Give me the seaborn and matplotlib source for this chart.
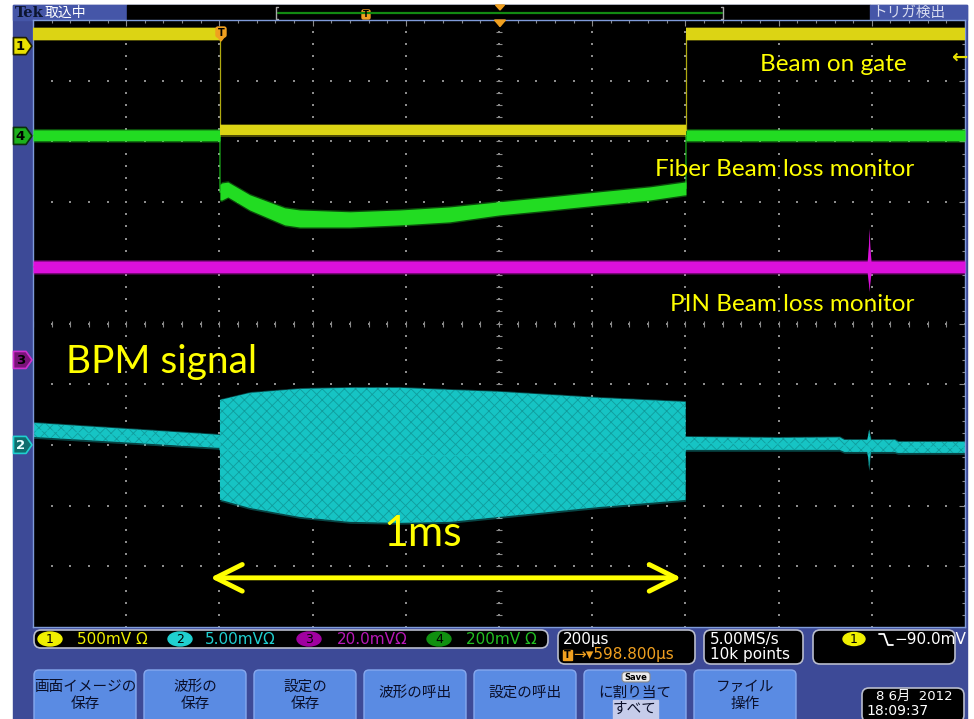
import numpy as np
import matplotlib
matplotlib.use("Agg")
import matplotlib.pyplot as plt
from matplotlib.patches import FancyBboxPatch, Polygon, Rectangle, Ellipse
import seaborn as sns

# ---------------- scope settings (from the readouts) ----------------
MV_PER_DIV = {"1": 500.0, "2": 5.00, "3": 20.0, "4": 200.0}
SCALE_TEXT = {"1": "500mV Ω", "2": "5.00mVΩ", "3": "20.0mVΩ", "4": "200mV Ω"}
GROUND_DIV = {"1": 4.57, "4": 3.09, "3": -0.60, "2": -2.00}   # channel offsets, div from centre
US_PER_DIV = 200.0
DELAY_US = 598.8            # screen centre relative to trigger
SAMPLE_RATE = "5.00MS/s"
RECORD_LEN = "10k points"
TRIG_LEVEL = "−90.0mV"
DATE_TEXT = "8 6月  2012"
TIME_TEXT = "18:09:37"

# ---------------- traces: time (µs), lower / upper edge of trace (mV) ----------------
# Ch1 – beam-on gate
gate_t = [-401.2, 0, 0, 1000, 1000, 1598.8]
gate_lo = [50, 50, -735, -735, 50, 50]
gate_hi = [145, 145, -650, -650, 145, 145]

# Ch4 – fiber beam loss monitor
fiber_t = [-401.2, 0, 0, 4, 17, 64, 139, 171, 279, 386, 493, 600, 707, 815, 922, 997, 1000, 1000, 1598.8]
fiber_lo = [-16, -16, -211, -211, -201, -244, -293, -300, -300, -293, -283, -260, -244, -227, -211, -194, -194, -16, -16]
fiber_hi = [20, 20, -160, -155, -152, -194, -237, -244, -250, -244, -234, -217, -201, -184, -168, -152, -152, 20, 20]

# Ch3 – PIN beam loss monitor
pin_t = [-401.2, 1389, 1391.5, 1393, 1394.5, 1397, 1598.8]
pin_lo = [28.7, 28.7, 25.5, 22.7, 25.5, 28.7, 28.7]
pin_hi = [32.6, 32.6, 37.5, 43.2, 37.5, 32.6, 32.6]

# Ch2 – BPM signal
bpm_t = [-401.2, 0, 0, 2, 64, 171, 279, 386, 493, 600, 707, 815, 999, 999, 1200, 1330, 1340,
         1389, 1391.5, 1393, 1394.5, 1397, 1448, 1455, 1598.8]
bpm_lo = [0.66, -0.25, -4.53, -4.53, -5.19, -5.93, -6.34, -6.42, -6.34, -5.93, -5.52, -5.11, -4.53,
          -0.41, -0.41, -0.41, -0.58, -0.58, -1.20, -2.06, -1.20, -0.58, -0.58, -0.66, -0.66]
bpm_hi = [1.81, 0.82, 3.71, 3.71, 4.28, 4.61, 4.70, 4.70, 4.53, 4.37, 4.12, 3.87, 3.54,
          0.66, 0.58, 0.62, 0.41, 0.41, 0.90, 1.24, 0.90, 0.41, 0.41, 0.25, 0.25]

TRACE_COLORS = {"1": "#DCD414", "2": "#16C4C4", "3": "#DC10DC", "4": "#22DC22"}
TRACE_GRAIN = {"2": "#109C9C"}   # mottled persistence texture on the BPM trace

# ---------------- figure geometry (pixels) ----------------
W, H = 974, 719
L, R, T, B = 33, 965, 20, 627
PXDIV = (B - T) / 10.0

sns.set_theme(style="dark", rc={
    "axes.facecolor": "black",
    "figure.facecolor": "white",
    "axes.edgecolor": "#7F9BDA",
    "xtick.color": "#8A8A8A",
    "ytick.color": "#8A8A8A",
    "hatch.linewidth": 0.6,
})
plt.rcParams["font.family"] = ["DejaVu Sans", "Noto Sans CJK JP"]
JP = ["Noto Sans CJK JP", "DejaVu Sans"]
ANNOT = ["Lato", "DejaVu Sans"]

fig = plt.figure(figsize=(W / 100, H / 100), dpi=100)


def pixel_axes(z):
    a = fig.add_axes([0, 0, 1, 1], zorder=z)
    a.set_xlim(0, W)
    a.set_ylim(H, 0)
    a.axis("off")
    return a


under = pixel_axes(0)
ax = fig.add_axes([L / W, 1 - B / H, (R - L) / W, (B - T) / H], zorder=1)
over = pixel_axes(2)
over.patch.set_alpha(0)

# ---------------- bezel ----------------
BEZEL = "#3D4A97"
under.add_patch(Rectangle((13, 5), 954, 720, color=BEZEL))
under.add_patch(Rectangle((13, 5), 114, 15, color="#4556A8"))
under.add_patch(Rectangle((127, 5), 743, 15, color="black"))
under.add_patch(Rectangle((870, 5), 97, 15, color="#4556A8"))
under.text(15, 13, "Tek", family="DejaVu Serif", weight="bold", fontsize=10.5,
           color="#0C1530", va="center", ha="left")
under.text(45, 13, "取込中", family=JP, fontsize=10, color="white", va="center", ha="left")
under.text(872, 13, "トリガ検出", family=JP, fontsize=10.5, color="#D8DCF0", va="center", ha="left")

# record overview bar
under.plot([278, 722], [12.5, 12.5], color="#128A12", lw=1.6)
for xb, d in [(276, 1), (723, -1)]:
    under.plot([xb + 2 * d, xb, xb, xb + 2 * d], [7, 7, 19, 19], color="#A8A8A8", lw=1)
under.add_patch(FancyBboxPatch((362, 10), 8, 9, boxstyle="round,pad=0,rounding_size=1.5",
                               fc="#F0A020", ec="#F0A020"))
under.text(366, 14.5, "T", fontsize=6, weight="bold", color="black", ha="center", va="center")
under.add_patch(Polygon([(495.5, 5), (504.5, 5), (500, 10)], color="#F0A020"))

# ---------------- graticule ----------------
t0 = DELAY_US - 5 * US_PER_DIV
t1 = DELAY_US + 5 * US_PER_DIV
ax.set_xlim(t0, t1)
ax.set_ylim(-5, 5)
ax.grid(False)
ax.set_xticks(DELAY_US + US_PER_DIV * np.arange(-5, 6))
ax.set_xticks(np.arange(t0, t1 + 1, US_PER_DIV / 5), minor=True)
ax.set_yticks(np.arange(-5, 6))
ax.set_yticks(np.arange(-5, 5.01, 0.2), minor=True)
ax.tick_params(which="both", direction="in", top=True, right=True,
               labelbottom=False, labelleft=False, labeltop=False, labelright=False)
ax.tick_params(which="major", length=4, width=0.8)
ax.tick_params(which="minor", length=2.5, width=0.8)
for s in ax.spines.values():
    s.set_color("#7F9BDA")
    s.set_linewidth(1.0)

grid_x = DELAY_US + US_PER_DIV * np.arange(-4, 5)
fine_y = np.arange(-5, 5.01, 0.2)
fine_x = np.arange(t0, t1 + 1, US_PER_DIV / 5)
gx = np.repeat(grid_x, len(fine_y))
gy = np.tile(fine_y, len(grid_x))
hx = np.tile(fine_x, 9)
hy = np.repeat(np.arange(-4, 5), len(fine_x))
ax.scatter(np.r_[gx, hx], np.r_[gy, hy], s=1.4, marker="s", color="#8C8C8C", lw=0, zorder=1)
ax.plot(np.full_like(fine_y, DELAY_US), fine_y, ls="none", marker="_", ms=4, mew=0.8,
        color="#8A8A8A", zorder=1)
ax.plot(fine_x, np.zeros_like(fine_x), ls="none", marker="|", ms=4, mew=0.8,
        color="#8A8A8A", zorder=1)


# ---------------- waveforms ----------------
def to_div(ch, mv):
    return GROUND_DIV[ch] + np.asarray(mv, float) / MV_PER_DIV[ch]


def draw_trace(ch, t, lo, hi, z):
    c = TRACE_COLORS[ch]
    t = np.asarray(t, float)
    lo_d, hi_d = to_div(ch, lo), to_div(ch, hi)
    e = 1.4 / PXDIV
    ax.fill_between(t, lo_d - e, hi_d + e, color=c, alpha=0.35, lw=0, zorder=z)
    if ch in TRACE_GRAIN:
        ax.fill_between(t, lo_d, hi_d, facecolor=c, edgecolor=TRACE_GRAIN[ch], hatch="xxx",
                        lw=0, zorder=z + 0.1)
    else:
        ax.fill_between(t, lo_d, hi_d, color=c, lw=0, zorder=z + 0.1)
    sns.lineplot(x=t, y=(lo_d + hi_d) / 2, ax=ax, color=c, lw=0.9, alpha=0.8,
                 estimator=None, sort=False, zorder=z + 0.2)


draw_trace("2", bpm_t, bpm_lo, bpm_hi, 2)
draw_trace("3", pin_t, pin_lo, pin_hi, 3)
draw_trace("4", fiber_t, fiber_lo, fiber_hi, 4)
draw_trace("1", gate_t, gate_lo, gate_hi, 5)

# 1 ms beam-gate span
arrow_y = -4.19
ax.annotate("", xy=(990, arrow_y), xytext=(-21, arrow_y),
            arrowprops=dict(arrowstyle="<->,head_length=1.6,head_width=0.8",
                            color="#FFFF00", lw=3.5, shrinkA=0, shrinkB=0), zorder=8)

# ---------------- channel markers ----------------
def ch_marker(ch, face, edge, digit):
    yc = 323.5 - GROUND_DIV[ch] * PXDIV
    pts = [(13.5, yc - 8.5), (26, yc - 8.5), (32, yc), (26, yc + 8.5), (13.5, yc + 8.5)]
    under.add_patch(Polygon(pts, closed=True, fc=face, ec=edge, lw=1.2, joinstyle="round"))
    under.text(20.5, yc + 0.5, ch, fontsize=9.5, weight="bold", color=digit,
               ha="center", va="center")


ch_marker("1", "#E8E000", "#202000", "black")
ch_marker("4", "#1CB01C", "#0A300A", "black")
ch_marker("3", "#7A147A", "#D030D0", "black")
ch_marker("2", "#0E6E6E", "#20D0D0", "#E8FFFF")

# trigger point and trigger position markers
over.add_patch(FancyBboxPatch((216, 27), 10, 10, boxstyle="round,pad=0,rounding_size=2",
                              fc="#F0A020", ec="#F0A020"))
over.add_patch(Polygon([(217, 36), (225, 36), (221, 41)], color="#F0A020"))
over.text(221, 32.5, "T", fontsize=7, weight="bold", color="black", ha="center", va="center")
over.add_patch(Polygon([(494.5, 20), (505.5, 20), (500, 26.5)], color="#F0A020"))
over.text(959, 57, "←", fontsize=14, weight="bold", color="#E8E000", ha="center", va="center")

# ---------------- annotations ----------------
YEL = "#FFFF00"
over.text(760, 71, "Beam on gate", family=ANNOT, fontsize=17.5, color=YEL, ha="left", va="baseline")
over.text(655, 176, "Fiber Beam loss monitor", family=ANNOT, fontsize=17.5, color=YEL,
          ha="left", va="baseline")
over.text(670, 311, "PIN Beam loss monitor", family=ANNOT, fontsize=17.5, color=YEL,
          ha="left", va="baseline")
over.text(66, 373, "BPM signal", family=ANNOT, fontsize=28, color=YEL, ha="left", va="baseline")
over.text(383, 546, "1ms", family=ANNOT, fontsize=31, color=YEL, ha="left", va="baseline")

# ---------------- readouts ----------------
BOX_EDGE = "#B8BCCC"
RO = 11


def readout_box(x0, y0, w, h):
    under.add_patch(FancyBboxPatch((x0, y0), w, h, boxstyle="round,pad=0,rounding_size=7",
                                   fc="black", ec=BOX_EDGE, lw=1.2))


readout_box(34, 630, 514, 18)
chan_badges = [("1", 50, "#F0F000", "#F0F000", 77), ("2", 180, "#20D0D0", "#20D0D0", 205),
               ("3", 309, "#A000A0", "#B818B8", 337), ("4", 439, "#109010", "#22C022", 466)]
for ch, cx, badge, txt_c, tx in chan_badges:
    under.add_patch(Ellipse((cx, 639), 24, 14, color=badge))
    under.text(cx, 639.5, ch, fontsize=9, color="black", ha="center", va="center")
    under.text(tx, 639.5, SCALE_TEXT[ch], fontsize=RO, color=txt_c, ha="left", va="center")

readout_box(558, 630, 137, 34)
under.text(563, 639.5, f"{US_PER_DIV:.0f}µs", fontsize=RO, color="white", ha="left", va="center")
under.add_patch(Rectangle((563, 650), 9, 10, color="#F0A020"))
under.text(567.5, 655.2, "T", fontsize=7, weight="bold", color="black", ha="center", va="center")
under.text(573, 655, f"→▾{DELAY_US:.3f}µs", fontsize=RO, color="#F0A020", ha="left", va="center")

readout_box(704, 630, 99, 34)
under.text(710, 639.5, SAMPLE_RATE, fontsize=RO, color="white", ha="left", va="center")
under.text(710, 655, RECORD_LEN, fontsize=RO, color="white", ha="left", va="center")

readout_box(813, 630, 142, 34)
under.add_patch(Ellipse((854, 639), 22, 13, color="#F0F000"))
under.text(854, 639.5, "1", fontsize=9, color="black", ha="center", va="center")
under.plot([879, 884, 888, 893], [634, 634, 645, 645], color="white", lw=1.3)
under.text(894, 639.5, TRIG_LEVEL, fontsize=RO, color="white", ha="left", va="center")

# ---------------- soft keys ----------------
BTN = "#5A8BE3"
INK = "#0A0F2A"
buttons = [(33, "画面イメージの\n保存"), (143, "波形の\n保存"), (253, "設定の\n保存"),
           (363, "波形の呼出"), (473, "設定の呼出"), (583, "に割り当て\nすべて"),
           (693, "ファイル\n操作")]
for x0, label in buttons:
    under.add_patch(FancyBboxPatch((x0 + 1, 670), 102, 55, boxstyle="round,pad=0,rounding_size=5",
                                   fc=BTN, ec="#86A8EE", lw=1.0))
    lines = label.split("\n")
    if len(lines) == 1:
        under.text(x0 + 52, 693, lines[0], family=JP, fontsize=10.5, color=INK,
                   ha="center", va="center")
    elif lines[1] == "すべて":
        under.add_patch(Rectangle((x0 + 30, 700), 45, 20, color="#C6CCEA"))
        under.text(x0 + 52, 693, lines[0], family=JP, fontsize=10.5, color=INK,
                   ha="center", va="center")
        under.text(x0 + 52, 709, lines[1], family=JP, fontsize=10.5, color=INK,
                   ha="center", va="center")
    else:
        under.text(x0 + 52, 687, lines[0], family=JP, fontsize=10.5, color=INK,
                   ha="center", va="center")
        under.text(x0 + 52, 704, lines[1], family=JP, fontsize=10.5, color=INK,
                   ha="center", va="center")

over.add_patch(FancyBboxPatch((622, 672), 28, 10, boxstyle="round,pad=0,rounding_size=3",
                              fc="#ECECEC", ec="#8A8A8A", lw=0.8))
over.text(636, 677.3, "Save", fontsize=6, weight="bold", color="black", ha="center", va="center")

# date / time
readout_box(862, 688, 102, 34)
under.text(876, 696, DATE_TEXT, family=["DejaVu Sans", "Noto Sans CJK JP"], fontsize=9.5,
           color="white", ha="left", va="center")
under.text(866, 711, TIME_TEXT, fontsize=10, color="white", ha="left", va="center")

fig.savefig("out.png", dpi=100)
